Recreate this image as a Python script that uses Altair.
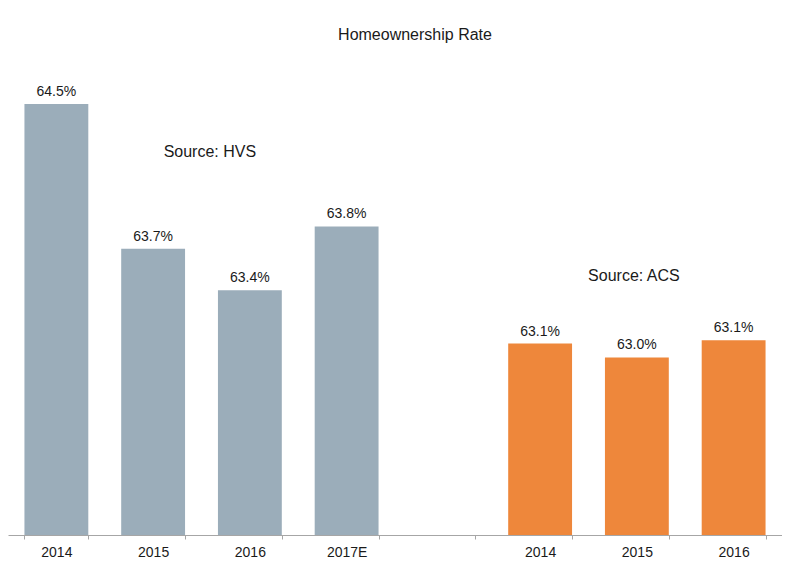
import altair as alt
import pandas as pd

# ---- data ----
slot_keys = ["h2014", "h2015", "h2016", "h2017E", "gap", "a2014", "a2015", "a2016"]
slot_labels = ["2014", "2015", "2016", "2017E", "", "2014", "2015", "2016"]

bar_keys = ["h2014", "h2015", "h2016", "h2017E", "a2014", "a2015", "a2016"]
bar_source = ["HVS", "HVS", "HVS", "HVS", "ACS", "ACS", "ACS"]
bar_values = [64.50, 63.66, 63.42, 63.79, 63.11, 63.03, 63.13]

note_text = ["Source: HVS", "Source: ACS"]
note_key = ["h2016", "a2015"]
note_y = [64.22, 63.50]

sources = ["HVS", "ACS"]
colors = ["#9BADBA", "#EE873B"]

y_base = 62.0
y_top = 64.784

FONT = "Liberation Sans"
TXT = "#1A1A1A"

bars_df = pd.DataFrame({"key": bar_keys, "source": bar_source, "value": bar_values})
notes_df = pd.DataFrame({"key": note_key, "text": note_text, "y": note_y})

label_expr = "[" + ",".join(f"'{l}'" for l in slot_labels) + "][indexof([" + \
    ",".join(f"'{k}'" for k in slot_keys) + "], datum.value)]"

x_scale = alt.Scale(domain=slot_keys, paddingInner=0.34, paddingOuter=0.17)
y_scale = alt.Scale(domain=[y_base, y_top], zero=False, nice=False)

x_enc = alt.X(
    "key:N",
    scale=x_scale,
    sort=slot_keys,
    axis=alt.Axis(
        title=None,
        labelAngle=0,
        labelExpr=label_expr,
        tickBand="extent",
        ticks=True,
        tickSize=4,
        tickColor="#A6A6A6",
        domainColor="#A6A6A6",
        labelFont=FONT,
        labelFontSize=14,
        labelColor=TXT,
        labelPadding=6,
        grid=False,
    ),
)
x_plain = alt.X("key:N", scale=x_scale, sort=slot_keys)

base = alt.Chart(bars_df)

bars = base.mark_bar().encode(
    x=x_enc,
    y=alt.Y("value:Q", scale=y_scale, axis=None),
    y2=alt.datum(y_base),
    color=alt.Color("source:N", scale=alt.Scale(domain=sources, range=colors), legend=None),
)

labels = base.transform_calculate(
    lab="format(datum.value, '.1f') + '%'"
).mark_text(
    baseline="bottom", dy=-5, font=FONT, fontSize=14, color=TXT
).encode(
    x=x_plain,
    y=alt.Y("value:Q", scale=y_scale),
    text="lab:N",
)

def note_layer(key, dx):
    return alt.Chart(notes_df).transform_filter(alt.datum.key == key).mark_text(
        baseline="middle", font=FONT, fontSize=16, color=TXT, dx=dx
    ).encode(
        x=x_plain,
        y=alt.Y("y:Q", scale=y_scale),
        text="text:N",
    )

notes_hvs = note_layer("h2016", -40)
notes_acs = note_layer("a2015", -3)

chart = alt.layer(bars, labels, notes_hvs, notes_acs).properties(
    width=774,
    height=480,
    padding={"left": 0, "right": 0, "top": 19, "bottom": 0},
    title=alt.Title(
        "Homeownership Rate",
        font=FONT,
        fontSize=16,
        fontWeight="normal",
        color=TXT,
        anchor="middle",
        offset=12,
        dx=20,
    ),
).configure_view(stroke=None)

chart.save("out.html", embed_options={"renderer": "svg", "actions": False})
